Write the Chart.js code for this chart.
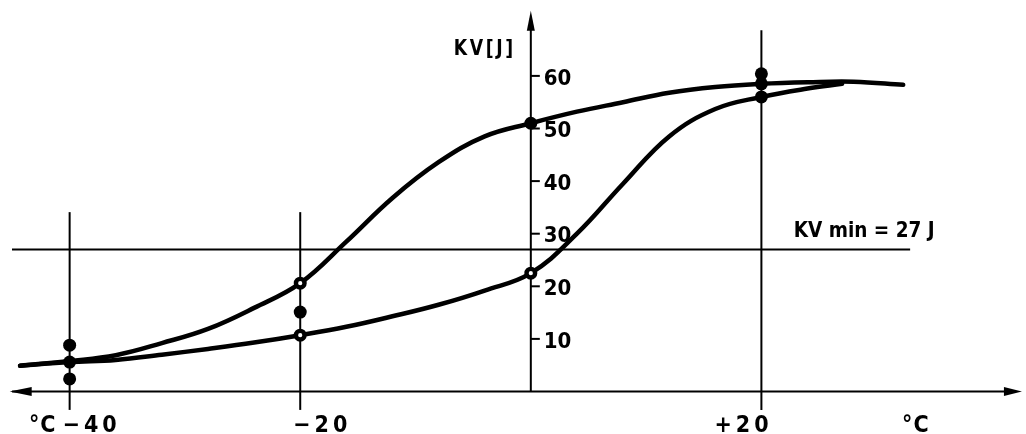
<!DOCTYPE html>
<html>
<head>
<meta charset="utf-8">
<script src="https://cdn.jsdelivr.net/npm/chart.js@4"></script>
<style>
  body { margin: 0; background: #fff; }
  #wrap { width: 1026px; height: 434px; }
</style>
</head>
<body>
<div id="wrap"><canvas id="kv-chart" width="1026" height="434"></canvas></div>
<script>
// Kerbschlagarbeit KV [J] ueber Pruftemperatur [°C]
var upperT = [-44.3, -40, -36, -32, -28, -24, -20, -16, -12, -8, -4, 0, 4, 8, 12, 16, 20, 24, 28, 32.3];
var upperKV = [4.9, 5.8, 6.9, 9.2, 11.9, 15.9, 20.6, 28.5, 36.8, 43.6, 48.5, 51.0, 53.2, 55.0, 56.8, 57.9, 58.5, 58.8, 58.9, 58.3];
var lowerT = [-44.3, -40, -36, -32, -28, -24, -20, -16, -12, -8, -4, 0, 4, 8, 12, 16, 20, 24, 27];
var lowerKV = [4.9, 5.6, 6.0, 7.0, 8.1, 9.3, 10.7, 12.3, 14.3, 16.5, 19.2, 22.5, 30.0, 39.5, 48.5, 53.7, 56.0, 57.6, 58.5];

// Einzelwerte
var filledT = [-40, -40, -40, -20, 0, 20, 20, 20];
var filledKV = [8.8, 5.6, 2.4, 15.1, 51.0, 60.4, 58.5, 56.0];
var openT = [-20, -20, 0];
var openKV = [20.6, 10.7, 22.5];

var kvMin = 27;
var gridT = [-40, -20, 20];
var gridTop = [34.1, 34.1, 68.7];
var yTicks = [10, 20, 30, 40, 50, 60];
var xTickLabels = ["\u221240", "\u221220", "+20"];

function pts(xs, ys) {
  var out = [];
  for (var i = 0; i < xs.length; i++) out.push({ x: xs[i], y: ys[i] });
  return out;
}

function seg(x1, y1, x2, y2, w) {
  return {
    data: [{ x: x1, y: y1 }, { x: x2, y: y2 }],
    borderColor: "#000",
    borderWidth: w,
    pointRadius: 0,
    showLine: true,
    fill: false
  };
}

function curve(xs, ys) {
  return {
    data: pts(xs, ys),
    borderColor: "#000",
    borderWidth: 4.5,
    pointRadius: 0,
    showLine: true,
    tension: 0.4,
    borderCapStyle: "round"
  };
}

var datasets = [
  {
    data: pts(openT, openKV),
    pointRadius: 4.3,
    pointBorderWidth: 4.4,
    pointBackgroundColor: "#fff",
    pointBorderColor: "#000",
    showLine: false
  },
  {
    data: pts(filledT, filledKV),
    pointRadius: 6.5,
    pointBorderWidth: 0,
    pointBackgroundColor: "#000",
    showLine: false
  },
  curve(upperT, upperKV),
  curve(lowerT, lowerKV),
  seg(-45.0, kvMin, 32.9, kvMin, 2),
  seg(-45.0, 0, 42.0, 0, 2),
  seg(0, 0, 0, 71, 2)
];
gridT.forEach(function (t, i) {
  datasets.push(seg(t, -3.5, t, gridTop[i], 2));
});

var font = "'DejaVu Sans Condensed', 'DejaVu Sans', sans-serif";

var beschriftung = {
  id: "beschriftung",
  afterDatasetsDraw: function (chart) {
    var c = chart.ctx;
    var xs = chart.scales.x;
    var ys = chart.scales.y;
    var x0 = xs.getPixelForValue(0);
    c.save();
    c.fillStyle = "#000";
    c.strokeStyle = "#000";

    // Pfeilspitzen
    var yAx = ys.getPixelForValue(0);
    var top = ys.getPixelForValue(72.4);
    c.beginPath();
    c.moveTo(x0, top);
    c.lineTo(x0 - 4, top + 20);
    c.lineTo(x0 + 4, top + 20);
    c.closePath();
    c.fill();
    var xl = xs.getPixelForValue(-45.2);
    c.beginPath();
    c.moveTo(xl, yAx);
    c.lineTo(xl + 22, yAx - 4.5);
    c.lineTo(xl + 22, yAx + 4.5);
    c.closePath();
    c.fill();
    var xr = xs.getPixelForValue(42.6);
    c.beginPath();
    c.moveTo(xr, yAx);
    c.lineTo(xr - 18, yAx - 4.5);
    c.lineTo(xr - 18, yAx + 4.5);
    c.closePath();
    c.fill();

    // Teilstriche und Werte der KV-Achse
    c.lineWidth = 2;
    c.font = "bold 22px " + font;
    c.textBaseline = "middle";
    c.textAlign = "left";
    yTicks.forEach(function (v) {
      var y = ys.getPixelForValue(v);
      c.beginPath();
      c.moveTo(x0, y);
      c.lineTo(x0 + 9, y);
      c.stroke();
      c.fillText(String(v), x0 + 13, y + 3);
    });

    c.letterSpacing = "3px";
    c.fillText("KV[J]", x0 - 77, ys.getPixelForValue(65), 62);

    // Temperaturachse
    c.font = "bold 23px " + font;
    c.textBaseline = "alphabetic";
    var base = 432;
    var xOff = [-7, -7, -47];
    c.letterSpacing = "4px";
    gridT.forEach(function (t, i) {
      c.fillText(xTickLabels[i], xs.getPixelForValue(t) + xOff[i], base);
    });
    c.letterSpacing = "1px";
    c.fillText("\u00b0C", 29, base);
    c.fillText("\u00b0C", xs.getPixelForValue(32.2), base);

    // Mindestwert
    c.letterSpacing = "0px";
    c.font = "bold 22px " + font;
    c.fillText("KV min = 27 J", xs.getPixelForValue(22.8), ys.getPixelForValue(kvMin) - 12, 141);
    c.restore();
  }
};

var ctx = document.getElementById("kv-chart");
var kvChart = new Chart(ctx, {
  type: "scatter",
  data: { datasets: datasets },
  options: {
    responsive: false,
    animation: false,
    layout: { padding: 0, autoPadding: false },
    plugins: {
      legend: { display: false },
      tooltip: { enabled: false }
    },
    scales: {
      x: { type: "linear", min: -46.04, max: 42.95, display: false },
      y: { type: "linear", min: -8.08, max: 74.43, display: false }
    }
  },
  plugins: [beschriftung]
});
</script>
</body>
</html>
